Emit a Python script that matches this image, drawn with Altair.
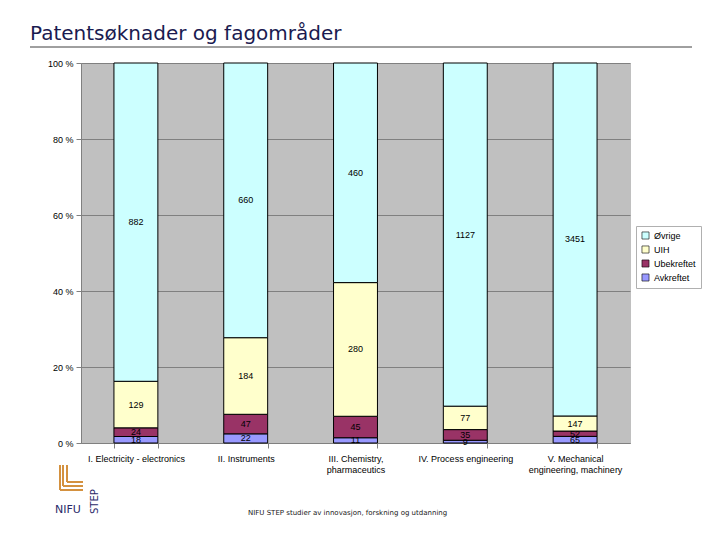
import altair as alt
import pandas as pd

categories = ["I. Electricity - electronics", "II. Instruments", "III. Chemistry,|pharmaceutics",
              "IV. Process engineering", "V. Mechanical|engineering, machinery"]
series = ["Øvrige", "UIH", "Ubekreftet", "Avkreftet"]
avkreftet = [18, 22, 11, 9, 65]
ubekreftet = [24, 47, 45, 35, 52]
uih = [129, 184, 280, 77, 147]
ovrige = [882, 660, 460, 1127, 3451]
colors = ["#CCFFFF", "#FFFFCC", "#993366", "#9999FF"]
y_ticks = [0, 0.2, 0.4, 0.6, 0.8, 1.0]

rows = []
for i, c in enumerate(categories):
    for rank, (name, vals) in enumerate([("Avkreftet", avkreftet), ("Ubekreftet", ubekreftet),
                                         ("UIH", uih), ("Øvrige", ovrige)]):
        rows.append({"cat": c, "series": name, "value": vals[i], "rank": rank})
df = pd.DataFrame(rows)

FONT = "Liberation Sans"

base = alt.Chart(df).transform_stack(
    stack="value", groupby=["cat"], sort=[alt.SortField("rank", order="ascending")],
    as_=["y0", "y1"], offset="normalize"
).transform_calculate(mid="(datum.y0 + datum.y1) / 2")

xenc = alt.X("cat:N", sort=categories, title=None,
             scale=alt.Scale(paddingInner=0.6, paddingOuter=0.3),
             axis=alt.Axis(labelExpr="split(datum.label, '|')", labelAngle=0, labelFont=FONT,
                           labelFontSize=9, labelColor="black", tickBand="extent",
                           tickColor="#808080", tickSize=5, domainColor="#808080",
                           labelPadding=6, labelLineHeight=11))

bars = base.mark_bar(stroke="black", strokeWidth=1).encode(
    x=xenc,
    y=alt.Y("y0:Q", scale=alt.Scale(domain=[0, 1]), title=None,
            axis=alt.Axis(values=y_ticks, labelExpr="round(datum.value*100) + ' %'",
                          labelFont=FONT, labelFontSize=9, labelColor="black",
                          gridColor="#808080", gridWidth=1, tickColor="#808080",
                          tickSize=5, domainColor="#808080", labelPadding=3)),
    y2="y1:Q",
    color=alt.Color("series:N", scale=alt.Scale(domain=series, range=colors),
                    legend=alt.Legend(title=None, orient="none", legendX=555, legendY=163,
                                      fillColor="white", strokeColor="#b0b0b0", padding=5,
                                      symbolType="square", symbolSize=50,
                                      symbolStrokeColor="black", symbolStrokeWidth=0.6,
                                      labelFont=FONT, labelFontSize=9, labelColor="black",
                                      rowPadding=3)),
)

labels = base.mark_text(font=FONT, fontSize=9, color="black").encode(
    x=alt.X("cat:N", sort=categories),
    y=alt.Y("mid:Q"),
    text="value:Q",
)

one = pd.DataFrame({"a": [0]})
title = alt.Chart(one).mark_text(text="Patentsøknader og fagområder", font="DejaVu Sans",
                                 fontSize=20, color="#1a1a50", align="left",
                                 baseline="alphabetic").encode(x=alt.value(-51), y=alt.value(-23))
underline = alt.Chart(one).mark_rule(color="#404040", strokeWidth=1).encode(
    x=alt.value(-51), x2=alt.value(611), y=alt.value(-16))
footer = alt.Chart(one).mark_text(text="NIFU STEP  studier av innovasjon, forskning og utdanning",
                                  font="DejaVu Sans", fontSize=7, color="#202020", align="left",
                                  baseline="alphabetic").encode(x=alt.value(167), y=alt.value(452))

orange = "#D4913F"
logo_parts = []
for xv, yb in [(-21, 427), (-18, 423), (-14, 419)]:
    logo_parts.append(alt.Chart(one).mark_rule(color=orange, strokeWidth=2).encode(
        x=alt.value(xv), y=alt.value(402), y2=alt.value(yb)))
    logo_parts.append(alt.Chart(one).mark_rule(color=orange, strokeWidth=2).encode(
        x=alt.value(xv), x2=alt.value(2), y=alt.value(yb)))
nifu = alt.Chart(one).mark_text(text="NIFU", font="DejaVu Sans", fontSize=11, color="#2a2a6a",
                                align="left", baseline="alphabetic").encode(
    x=alt.value(-26), y=alt.value(450))
step = alt.Chart(one).mark_text(text="STEP", font="DejaVu Sans", fontSize=10, color="#2a2a6a",
                                align="left", baseline="alphabetic", angle=270).encode(
    x=alt.value(17), y=alt.value(451))

chart = alt.layer(bars, labels, title, underline, footer, *logo_parts, nifu, step).properties(
    width=549, height=380, autosize="none", background="white",
    padding={"left": 73, "top": 55, "right": 80, "bottom": 85},
    view=alt.ViewBackground(fill="#C0C0C0", stroke="#C0C0C0"),
).configure_view(fill="#C0C0C0", stroke="#C0C0C0")

chart.save("out.html", embed_options={"renderer": "svg", "actions": False})
